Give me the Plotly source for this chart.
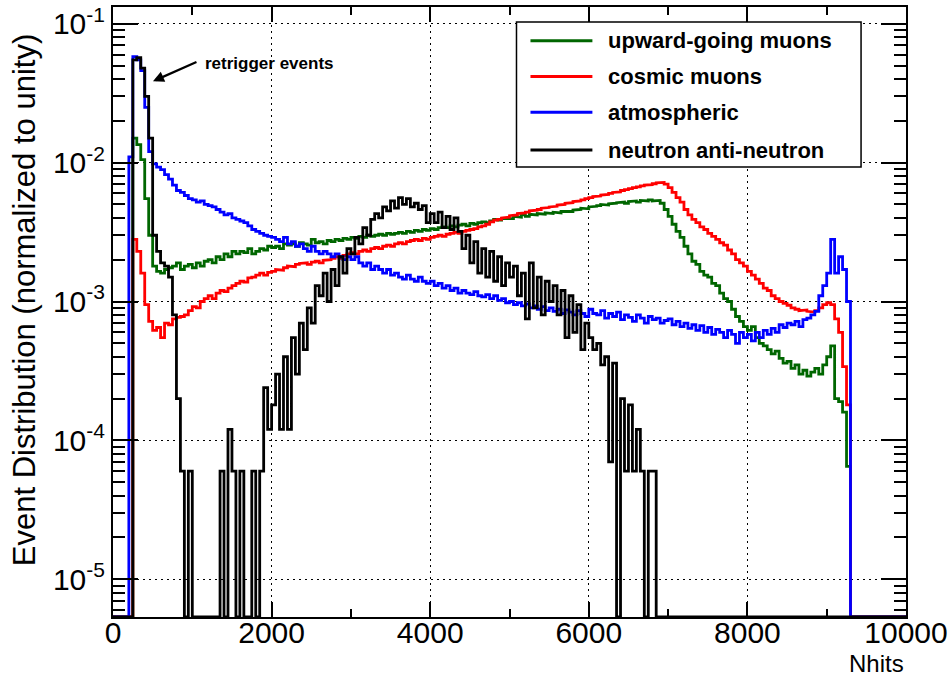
import numpy as np
import plotly.graph_objects as go

# ---------------- data (normalized event fractions, in units of 1e-3) ----------------
bin_width = 50          # Nhits per bin
n_bins = 200            # 0 .. 10000

upward_going = [
    0, 0, 0, 0, 0, 15, 13.5, 10.5, 5.5, 3.0,
    1.8, 1.65, 1.6, 1.7, 1.75, 1.8, 1.9, 1.7, 1.8, 1.85,
    1.75, 1.9, 1.8, 1.95, 2.0, 1.9, 2.1, 2.0, 2.2, 2.1,
    2.3, 2.2, 2.3, 2.25, 2.4, 2.2, 2.3, 2.4, 2.35, 2.5,
    2.45, 2.5, 2.4, 2.6, 2.55, 2.6, 2.5, 2.65, 2.6, 2.55,
    2.8, 2.65, 2.7, 2.6, 2.75, 2.7, 2.8, 2.75, 2.85, 2.8,
    2.9, 2.85, 2.95, 2.9, 3.0, 2.95, 3.0, 3.05, 3.0, 3.1,
    3.05, 3.1, 3.15, 3.1, 3.2, 3.15, 3.25, 3.2, 3.3, 3.25,
    3.35, 3.3, 3.4, 3.45, 3.4, 3.5, 3.45, 3.55, 3.6, 3.5,
    3.65, 3.6, 3.7, 3.75, 3.7, 3.8, 3.9, 3.85, 3.95, 4.0,
    3.95, 4.1, 4.05, 4.2, 4.1, 4.25, 4.2, 4.3, 4.25, 4.35,
    4.3, 4.4, 4.35, 4.45, 4.5, 4.45, 4.55, 4.6, 4.7, 4.65,
    4.8, 4.85, 4.9, 5.0, 4.95, 5.05, 5.1, 5.15, 5.2, 5.1,
    5.25, 5.3, 5.2, 5.35, 5.3, 5.4, 5.3, 5.35, 5.1, 4.6,
    4.1, 3.6, 3.2, 2.9, 2.5, 2.2, 1.95, 1.85, 1.65, 1.55,
    1.5, 1.35, 1.3, 1.15, 1.05, 1.0, 0.88, 0.78, 0.72, 0.66,
    0.62, 0.66, 0.55, 0.5, 0.48, 0.45, 0.42, 0.44, 0.39, 0.36,
    0.37, 0.33, 0.35, 0.3, 0.32, 0.29, 0.31, 0.33, 0.3, 0.35,
    0.4, 0.48, 0.2, 0.19, 0.16, 0.065, 0, 0, 0, 0,
    0, 0, 0, 0, 0, 0, 0, 0, 0, 0,
]

cosmic = [
    0, 0, 0, 0, 0, 2.8, 2.3, 1.6, 0.95, 0.72,
    0.62, 0.65, 0.55, 0.7, 0.68, 0.75, 0.77, 0.78, 0.8, 0.86,
    0.92, 0.9, 1.0, 1.05, 1.1, 1.05, 1.15, 1.2, 1.18, 1.25,
    1.3, 1.35, 1.4, 1.38, 1.48, 1.5, 1.55, 1.6, 1.55, 1.62,
    1.65, 1.7, 1.68, 1.75, 1.8, 1.78, 1.85, 1.88, 1.9, 1.85,
    1.92, 1.95, 1.9, 1.98, 2.0, 2.05, 2.1, 2.05, 2.15, 2.2,
    2.25, 2.2, 2.3, 2.35, 2.3, 2.4, 2.45, 2.4, 2.5, 2.55,
    2.5, 2.6, 2.65, 2.6, 2.7, 2.75, 2.8, 2.75, 2.85, 2.8,
    2.9, 2.95, 3.0, 2.95, 3.05, 3.1, 3.15, 3.1, 3.2, 3.25,
    3.3, 3.35, 3.45, 3.5, 3.6, 3.75, 3.85, 3.9, 4.0, 4.05,
    4.15, 4.2, 4.3, 4.35, 4.4, 4.5, 4.55, 4.6, 4.7, 4.75,
    4.8, 4.85, 4.95, 5.0, 5.1, 5.15, 5.25, 5.3, 5.4, 5.5,
    5.6, 5.7, 5.75, 5.85, 5.9, 6.0, 6.1, 6.15, 6.3, 6.4,
    6.5, 6.6, 6.7, 6.8, 6.9, 6.95, 7.05, 7.15, 7.2, 7.0,
    6.6, 6.1, 5.6, 5.2, 4.6, 4.2, 3.9, 3.7, 3.45, 3.3,
    3.1, 2.95, 2.8, 2.65, 2.55, 2.35, 2.2, 2.0, 1.9, 1.8,
    1.65, 1.55, 1.45, 1.35, 1.25, 1.2, 1.1, 1.05, 1.0, 0.97,
    0.94, 0.9, 0.88, 0.86, 0.87, 0.85, 0.84, 0.86, 0.9, 0.95,
    0.98, 0.95, 0.75, 0.6, 0.34, 0.18, 0, 0, 0, 0,
    0, 0, 0, 0, 0, 0, 0, 0, 0, 0,
]

atmospheric = [
    0, 0, 0, 0, 11, 58, 55, 46, 25, 12,
    9.8, 9.3, 8.9, 8.2, 7.6, 6.9, 6.3, 6.1, 5.8, 5.5,
    5.4, 5.2, 5.3, 5.0, 4.9, 4.8, 4.6, 4.4, 4.2, 4.3,
    4.0, 3.9, 3.8, 3.7, 3.5, 3.3, 3.2, 3.1, 3.0, 2.95,
    2.9, 2.8, 2.7, 2.9, 2.6, 2.7, 2.5, 2.6, 2.4, 2.3,
    2.5, 2.3, 2.2, 2.3, 2.2, 2.1, 2.2, 2.1, 2.0, 2.1,
    2.0, 2.1, 1.9, 1.8, 1.9, 1.7, 1.8, 1.7, 1.6, 1.7,
    1.55, 1.6, 1.5, 1.45, 1.55, 1.45, 1.4, 1.5, 1.4, 1.35,
    1.4, 1.3, 1.35, 1.25, 1.3, 1.2, 1.25, 1.15, 1.2, 1.15,
    1.12, 1.18, 1.1, 1.08, 1.12, 1.05, 1.1, 1.02, 1.05, 0.98,
    1.0, 0.95, 0.98, 0.93, 0.96, 0.9, 0.93, 0.88, 0.92, 0.86,
    0.9, 0.85, 0.88, 0.82, 0.87, 0.84, 0.8, 0.86, 0.82, 0.78,
    0.88, 0.82, 0.8, 0.86, 0.76, 0.82, 0.78, 0.84, 0.74, 0.8,
    0.77, 0.72, 0.8, 0.76, 0.7, 0.78, 0.74, 0.76, 0.7, 0.73,
    0.75, 0.68, 0.72, 0.66, 0.7, 0.64, 0.68, 0.62, 0.67, 0.6,
    0.65, 0.58, 0.63, 0.6, 0.55, 0.62, 0.58, 0.5, 0.6, 0.55,
    0.58, 0.52, 0.6, 0.55, 0.62, 0.58, 0.64, 0.6, 0.68, 0.65,
    0.7, 0.68, 0.72, 0.66, 0.74, 0.76, 0.8, 0.85, 1.1, 1.3,
    1.6, 2.8, 1.6, 2.1, 1.7, 1.0, 0, 0, 0, 0,
    0, 0, 0, 0, 0, 0, 0, 0, 0, 0,
]

nnbar = [
    0, 0, 0, 0, 0, 55, 57, 48, 30, 15,
    3.0, 2.3, 1.9, 1.8, 1.5, 0.8, 0.2, 0.06, 0, 0.06,
    0, 0, 0, 0, 0, 0, 0, 0.06, 0, 0.12,
    0.06, 0, 0.06, 0, 0, 0.06, 0, 0.06, 0.24, 0.12,
    0.18, 0.3, 0.12, 0.4, 0.12, 0.55, 0.3, 0.7, 0.45, 0.9,
    0.7, 1.3, 1.1, 1.6, 1.0, 1.7, 1.3, 2.1, 1.6, 2.4,
    2.2, 2.9, 2.6, 3.4, 3.0, 3.9, 4.3, 4.0, 4.8, 4.5,
    5.3, 4.7, 5.6, 5.0, 5.5, 4.8, 5.1, 4.6, 4.9, 3.7,
    4.3, 3.7, 4.4, 3.4, 4.1, 3.3, 4.0, 3.2, 2.4, 3.0,
    1.9, 2.7, 1.6, 2.4, 1.5, 2.3, 1.4, 2.1, 1.3, 1.9,
    1.5, 1.8, 1.1, 1.6, 0.75, 1.9, 0.9, 1.5, 0.8, 1.4,
    1.0, 1.3, 0.8, 1.2, 0.55, 1.1, 0.6, 0.95, 0.45, 0.7,
    0.55, 0.45, 0.5, 0.35, 0.4, 0.07, 0.36, 0, 0.2, 0.06,
    0.18, 0.06, 0.12, 0.06, 0, 0.06, 0.06, 0, 0, 0,
    0, 0, 0, 0, 0, 0, 0, 0, 0, 0,
    0, 0, 0, 0, 0, 0, 0, 0, 0, 0,
    0, 0, 0, 0, 0, 0, 0, 0, 0, 0,
    0, 0, 0, 0, 0, 0, 0, 0, 0, 0,
    0, 0, 0, 0, 0, 0, 0, 0, 0, 0,
    0, 0, 0, 0, 0, 0, 0, 0, 0, 0,
]
value_unit = 1e-3

series_names = ["upward-going muons", "cosmic muons", "atmospheric", "neutron anti-neutron"]
series_values = [upward_going, cosmic, atmospheric, nnbar]
series_colors = ["#006600", "#ff0000", "#0000ff", "#000000"]

x_tick_vals = [0, 2000, 4000, 6000, 8000, 10000]
x_tick_text = ["0", "2000", "4000", "6000", "8000", "10000"]
x_minor_vals = [1000, 3000, 5000, 7000, 9000]
y_tick_vals = [1e-5, 1e-4, 1e-3, 1e-2, 1e-1]
y_tick_text = ["10<sup>-5</sup>", "10<sup>-4</sup>", "10<sup>-3</sup>", "10<sup>-2</sup>", "10<sup>-1</sup>"]
y_range_log = [-5.272, -0.879]
x_range = [0, 10000]

# ---------------- figure ----------------
W, H = 951, 683
ML, MR, MT, MB = 113, 44, 3, 66
PW, PH = W - ML - MR, H - MT - MB


def px_x(px):
    return (px - ML) / PW


def px_y(py):
    return (H - MB - py) / PH


FONT = "Liberation Sans, Arial, Helvetica, sans-serif"
edges = np.arange(n_bins + 1) * bin_width
y_floor = 10 ** y_range_log[0]

fig = go.Figure()
for name, vals, col in zip(series_names, series_values, series_colors):
    v = np.asarray(vals, dtype=float) * value_unit
    v = np.where(v > 0, v, y_floor)
    xs = np.repeat(edges, 2)[1:-1]
    ys = np.repeat(v, 2)
    fig.add_trace(go.Scatter(x=xs, y=ys, mode="lines", name=name,
                             line=dict(color=col, width=2.8), showlegend=False,
                             hoverinfo="skip"))

minor_y = []
for d in range(-6, 0):
    for m in range(2, 10):
        val = m * 10.0 ** d
        if y_floor < val < 10 ** y_range_log[1]:
            minor_y.append(val)

fig.update_layout(
    width=W, height=H,
    margin=dict(l=ML, r=MR, t=MT, b=MB),
    paper_bgcolor="white", plot_bgcolor="white",
    font=dict(family=FONT, color="black"),
    xaxis=dict(range=x_range, tickvals=x_tick_vals, ticktext=x_tick_text,
               ticks="inside", ticklen=15,
               tickwidth=1.5, tickcolor="black", mirror="allticks", showline=True,
               linewidth=2, linecolor="black", showgrid=True, gridcolor="black",
               griddash="2px,4px", gridwidth=1, zeroline=False,
               ticklabelstandoff=-12,
               tickfont=dict(size=30, family=FONT),
               minor=dict(tickvals=x_minor_vals, ticks="inside", ticklen=8,
                          tickwidth=1.5, tickcolor="black", showgrid=False)),
    yaxis=dict(type="log", range=y_range_log, tickvals=y_tick_vals, ticktext=y_tick_text,
               ticks="inside", ticklen=25, tickwidth=1.5, tickcolor="black",
               mirror="allticks", showline=True, linewidth=2, linecolor="black",
               showgrid=True, gridcolor="black", griddash="2px,4px", gridwidth=1,
               zeroline=False, tickfont=dict(size=30, family=FONT),
               minor=dict(tickvals=minor_y, ticks="inside", ticklen=12,
                          tickwidth=1.5, tickcolor="black", showgrid=False)),
)

# axis titles
fig.add_annotation(text="Nhits", xref="paper", yref="paper", x=1.0, y=px_y(664),
                   xanchor="right", yanchor="middle", showarrow=False,
                   font=dict(size=24, family=FONT))
fig.add_annotation(text="Event Distribution (normalized to unity)", xref="paper",
                   yref="paper", x=px_x(24), y=px_y(298), textangle=-90,
                   xanchor="center", yanchor="middle", showarrow=False,
                   font=dict(size=31, family=FONT))

# retrigger annotation
fig.add_annotation(x=504, y=-1.414, xref="x", yref="y", text="", showarrow=True,
                   ax=45, ay=-20, arrowhead=2, arrowsize=1, arrowwidth=2.2,
                   arrowcolor="black")
fig.add_annotation(text="<b>retrigger events</b>", xref="paper", yref="paper",
                   x=px_x(203), y=px_y(60), xanchor="left", yanchor="middle",
                   showarrow=False, font=dict(size=17, family=FONT))

# legend (drawn from names / colors)
lx0, lx1, ly0, ly1 = 517, 862, 18, 164
fig.add_shape(type="rect", xref="paper", yref="paper", x0=px_x(lx0), x1=px_x(lx1),
              y0=px_y(ly1), y1=px_y(ly0), line=dict(color="black", width=1.5),
              fillcolor="white", layer="above")
row_y = [37, 73, 109, 147]
for name, col, ry in zip(series_names, series_colors, row_y):
    fig.add_shape(type="line", xref="paper", yref="paper", x0=px_x(531), x1=px_x(593),
                  y0=px_y(ry), y1=px_y(ry), line=dict(color=col, width=3), layer="above")
    fig.add_annotation(text="<b>%s</b>" % name, xref="paper", yref="paper",
                       x=px_x(607), y=px_y(ry), xanchor="left", yanchor="middle",
                       showarrow=False, font=dict(size=22, family=FONT))

fig.write_html("out.html")
